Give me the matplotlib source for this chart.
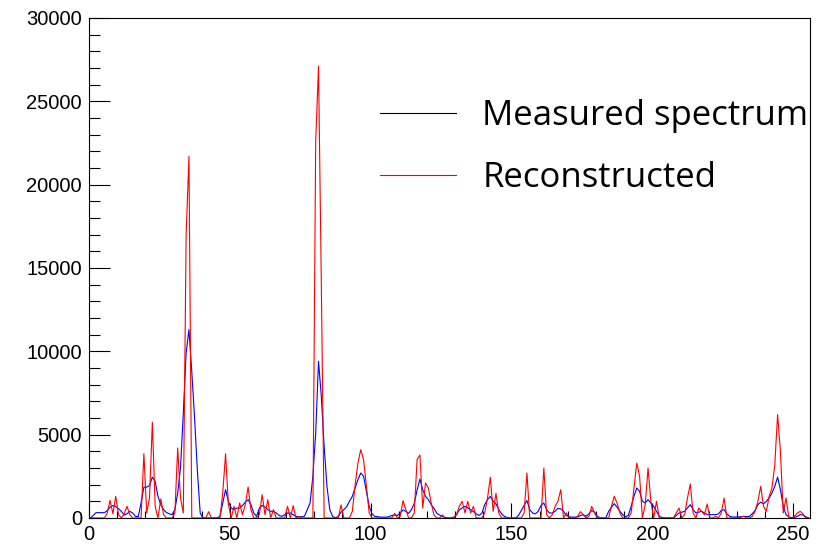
import matplotlib.pyplot as plt
import numpy as np
from matplotlib.lines import Line2D
from matplotlib.ticker import MultipleLocator

plt.rcParams['font.family'] = ['Liberation Sans', 'DejaVu Sans']

# 256 channels, plotted at bin centres
channels = np.arange(256) + 0.5

measured = [
    0, 150, 320, 320, 320, 320, 450, 650, 750, 680, 560, 400, 180, 250, 400, 300,
    100, 80, 900, 1850, 1850, 1950, 2450, 2200, 1300, 800, 500, 330, 250, 200, 500, 1500,
    3000, 6300, 9900, 11300, 8800, 6000, 2800, 300, 0, 0, 0, 0, 0, 0, 100, 900,
    1700, 1000, 600, 500, 600, 600, 750, 950, 1100, 800, 300, 100, 600, 750, 650, 500,
    400, 400, 300, 150, 100, 200, 300, 300, 200, 100, 60, 80, 100, 500, 900, 2500,
    5100, 9400, 7300, 4300, 1900, 500, 100, 0, 100, 350, 500, 680, 1000, 1300, 1800, 2300,
    2700, 2500, 1600, 700, 250, 100, 80, 50, 50, 50, 80, 150, 180, 150, 300, 480,
    400, 280, 500, 880, 1680, 2340, 1700, 1300, 1100, 800, 580, 280, 180, 80, 30, 0,
    0, 50, 200, 480, 600, 700, 600, 500, 380, 250, 150, 280, 800, 1100, 1300, 1000,
    850, 500, 250, 100, 30, 0, 0, 0, 150, 450, 750, 1050, 500, 300, 250, 400,
    750, 900, 500, 300, 300, 400, 580, 550, 400, 150, 80, 50, 50, 60, 150, 200,
    100, 250, 450, 350, 100, 0, 0, 0, 400, 650, 860, 650, 400, 200, 80, 150,
    700, 1300, 1800, 1600, 1000, 900, 1100, 900, 700, 400, 100, 30, 0, 0, 0, 0,
    150, 300, 350, 400, 600, 800, 500, 300, 350, 400, 300, 200, 200, 200, 200, 250,
    450, 500, 250, 100, 60, 60, 60, 80, 100, 80, 100, 250, 450, 800, 950, 850,
    1000, 1200, 1500, 1900, 2450, 1700, 700, 200, 60, 30, 30, 100, 200, 180, 80, 0,
]

reconstructed = [
    0, 0, 0, 0, 0, 0, 300, 1060, 250, 1300, 200, 0, 250, 700, 200, 0,
    0, 0, 0, 3860, 300, 1200, 5750, 700, 0, 1140, 200, 0, 0, 0, 300, 4200,
    1200, 300, 17000, 21700, 0, 0, 0, 0, 0, 0, 380, 0, 0, 0, 0, 1500,
    3850, 800, 0, 700, 0, 900, 200, 800, 1860, 500, 0, 0, 200, 1400, 200, 1100,
    0, 500, 0, 0, 0, 0, 700, 0, 740, 0, 100, 0, 0, 0, 0, 0,
    22600, 27100, 14000, 0, 0, 0, 0, 0, 0, 780, 0, 0, 0, 400, 2000, 3300,
    4100, 3500, 1900, 300, 0, 0, 0, 0, 0, 0, 0, 0, 280, 0, 100, 1040,
    500, 0, 0, 300, 3500, 3780, 600, 2100, 1800, 900, 180, 0, 0, 180, 0, 0,
    0, 0, 200, 700, 1000, 300, 1000, 300, 700, 0, 0, 0, 300, 1200, 2440, 400,
    1480, 300, 0, 0, 0, 0, 0, 0, 0, 0, 300, 2700, 0, 0, 0, 0,
    0, 3000, 200, 0, 200, 700, 1000, 1700, 0, 300, 0, 0, 0, 100, 380, 200,
    0, 100, 700, 300, 0, 0, 0, 0, 0, 700, 1300, 900, 300, 0, 0, 0,
    300, 1800, 3300, 2500, 0, 800, 3000, 1000, 0, 1000, 0, 0, 0, 0, 0, 0,
    300, 600, 0, 200, 1200, 2040, 300, 0, 600, 400, 200, 840, 0, 0, 100, 0,
    300, 1200, 0, 0, 0, 0, 0, 50, 100, 0, 0, 100, 400, 1000, 1900, 700,
    400, 1300, 1800, 3200, 6200, 4000, 300, 1200, 0, 0, 100, 300, 400, 250, 0, 0,
]

fig = plt.figure(figsize=(8.23, 5.52), dpi=100)
ax = fig.add_axes([0.1081, 0.0616, 0.8761, 0.9058])

ax.plot(channels, measured, color='blue', lw=0.8)
ax.plot(channels, reconstructed, color='red', lw=0.8)

ax.set_xlim(0, 256)
ax.set_ylim(0, 30000)
ax.xaxis.set_major_locator(MultipleLocator(50))
ax.xaxis.set_minor_locator(MultipleLocator(10))
ax.yaxis.set_major_locator(MultipleLocator(5000))
ax.yaxis.set_minor_locator(MultipleLocator(1000))
ax.tick_params(which='both', direction='in', width=0.8, labelsize=14.5, pad=5)
ax.tick_params(axis='x', which='major', length=11)
ax.tick_params(axis='x', which='minor', length=5)
ax.tick_params(axis='y', which='major', length=15)
ax.tick_params(axis='y', which='minor', length=8)
for s in ax.spines.values():
    s.set_linewidth(0.8)

handles = [Line2D([], [], color='black', lw=0.8),
           Line2D([], [], color='red', lw=0.8)]
ax.legend(handles, ['Measured spectrum', 'Reconstructed'],
          loc='upper left', bbox_to_anchor=(0.4617, 0.8207),
          bbox_transform=fig.transFigure, frameon=False,
          prop={'family': 'Open Sans', 'size': 25},
          handlelength=2.2, handletextpad=0.75, labelspacing=0.8,
          borderaxespad=0, borderpad=0)

fig.savefig('out.png', dpi=100)
